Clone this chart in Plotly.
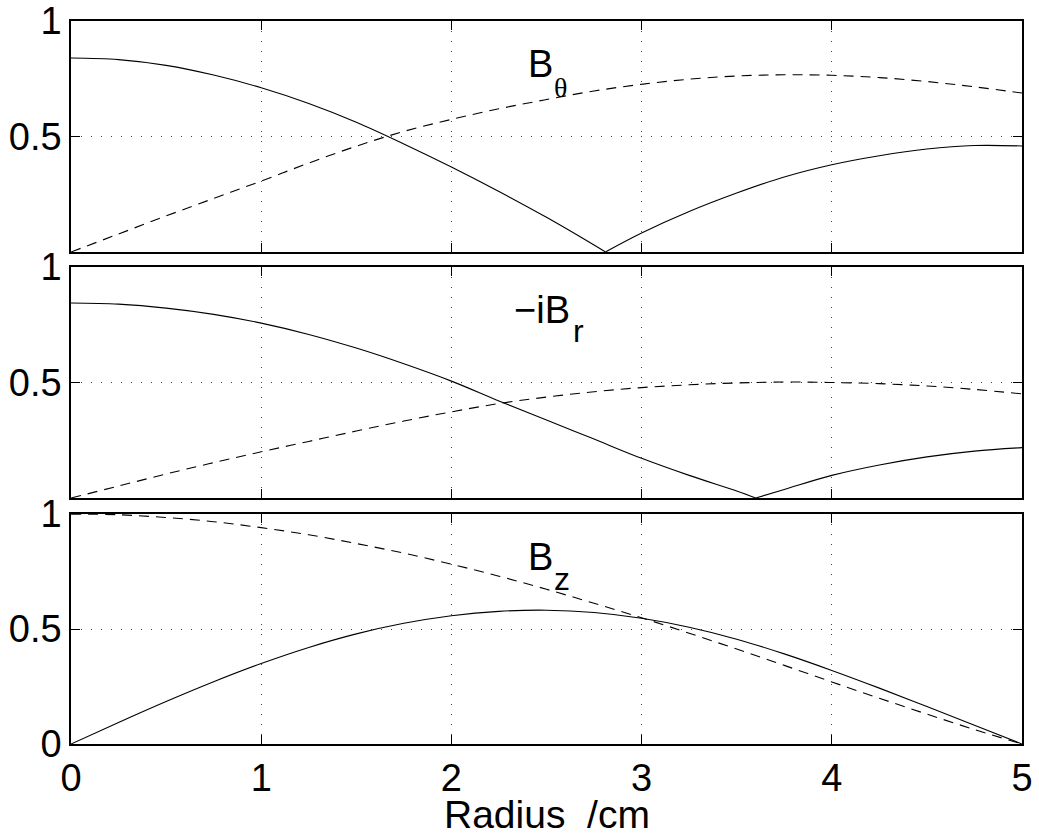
import plotly.graph_objects as go

# ---------------- data ----------------
radius = [0, 0.25, 0.5, 0.75, 1.0, 1.25, 1.5, 1.75, 2.0, 2.25, 2.5, 2.75,
          3.0, 3.25, 3.5, 3.75, 4.0, 4.25, 4.5, 4.75, 5.0]

# B_theta panel
btheta_solid_r = [0, 0.25, 0.5, 0.75, 1.0, 1.25, 1.5, 1.75, 2.0, 2.25, 2.5, 2.75, 2.81,
                  3.0, 3.25, 3.5, 3.75, 4.0, 4.25, 4.5, 4.75, 5.0]
btheta_solid = [0.840, 0.833, 0.808, 0.766, 0.711, 0.643, 0.562, 0.468, 0.368, 0.262, 0.150, 0.030, 0.0,
                0.082, 0.175, 0.255, 0.325, 0.378, 0.417, 0.446, 0.461, 0.459]
btheta_dashed = [0.0, 0.078, 0.156, 0.232, 0.307, 0.385, 0.458, 0.522, 0.574, 0.620, 0.660, 0.697,
                 0.726, 0.748, 0.762, 0.767, 0.765, 0.755, 0.738, 0.715, 0.688]

# -iB_r panel
br_solid_r = [0, 0.25, 0.5, 0.75, 1.0, 1.25, 1.5, 1.75, 2.0, 2.25, 2.5, 2.75, 3.0, 3.25, 3.5, 3.6,
              3.75, 4.0, 4.25, 4.5, 4.75, 5.0]
br_solid = [0.844, 0.839, 0.822, 0.795, 0.757, 0.708, 0.649, 0.581, 0.506, 0.420, 0.338, 0.255,
            0.172, 0.098, 0.030, 0.0, 0.037, 0.098, 0.143, 0.178, 0.203, 0.218]
br_dashed = [0.0, 0.052, 0.104, 0.153, 0.200, 0.245, 0.290, 0.333, 0.373, 0.409, 0.437, 0.460,
             0.478, 0.490, 0.498, 0.502, 0.500, 0.495, 0.485, 0.470, 0.451]

# B_z panel
bz_solid = [0.0, 0.094, 0.185, 0.271, 0.350, 0.420, 0.479, 0.525, 0.558, 0.577, 0.582, 0.572,
            0.547, 0.508, 0.456, 0.392, 0.320, 0.243, 0.163, 0.082, 0.0]
bz_dashed = [1.0, 0.997, 0.985, 0.967, 0.941, 0.910, 0.872, 0.830, 0.782, 0.730, 0.673, 0.612,
             0.549, 0.482, 0.413, 0.342, 0.270, 0.199, 0.130, 0.063, 0.0]

x_ticks = [0, 1, 2, 3, 4, 5]
x_ticklabels = ["0", "1", "2", "3", "4", "5"]
y_ticks_upper = [0.5, 1]
y_ticks_lower = [0, 0.5, 1]
x_title = "Radius\u00a0\u00a0/cm"

# ---------------- styling ----------------
FONT = "Liberation Sans, Arial, Helvetica, sans-serif"
FS = 38
LINE = dict(color="black", width=1.1)
DASH = dict(color="black", width=1.1, dash="10px,7px")

fig = go.Figure()


def split_at_zero(xs, ys):
    i = ys.index(0.0, 1)
    return (xs[:i + 1], ys[:i + 1]), (xs[i:], ys[i:])


# top panel (x3, y3)
for seg in split_at_zero(btheta_solid_r, btheta_solid):
    fig.add_trace(go.Scatter(x=seg[0], y=seg[1], mode="lines", line=dict(LINE, shape="spline"),
                             xaxis="x3", yaxis="y3", showlegend=False))
fig.add_trace(go.Scatter(x=radius, y=btheta_dashed, mode="lines", line=dict(DASH, shape="spline"),
                         xaxis="x3", yaxis="y3", showlegend=False))

# middle panel (x2, y2)
for seg in split_at_zero(br_solid_r, br_solid):
    fig.add_trace(go.Scatter(x=seg[0], y=seg[1], mode="lines", line=dict(LINE, shape="spline"),
                             xaxis="x2", yaxis="y2", showlegend=False))
fig.add_trace(go.Scatter(x=radius, y=br_dashed, mode="lines", line=dict(DASH, shape="spline"),
                         xaxis="x2", yaxis="y2", showlegend=False))

# bottom panel (x, y)
fig.add_trace(go.Scatter(x=radius, y=bz_solid, mode="lines", line=dict(LINE, shape="spline"),
                         xaxis="x", yaxis="y", showlegend=False))
fig.add_trace(go.Scatter(x=radius, y=bz_dashed, mode="lines", line=dict(DASH, shape="spline"),
                         xaxis="x", yaxis="y", showlegend=False))

common_axis = dict(
    showline=True, linecolor="black", linewidth=1.6, mirror="allticks",
    ticks="inside", ticklen=9, tickwidth=1, tickcolor="black",
    showgrid=True, gridcolor="#444444", gridwidth=1, griddash="1px,9px",
    zeroline=False, automargin=False, ticklabeloverflow="allow",
    tickfont=dict(family=FONT, size=FS, color="black"),
)

xcommon = dict(common_axis, range=[0, 5], tickvals=x_ticks, ticktext=x_ticklabels)

fig.update_layout(
    width=1039, height=834,
    margin=dict(l=71, r=17, t=21, b=90, autoexpand=False),
    paper_bgcolor="white", plot_bgcolor="white",
    font=dict(family=FONT, size=FS, color="black"),
    xaxis=dict(xcommon, anchor="y"),
    xaxis2=dict(xcommon, anchor="y2", showticklabels=False, matches="x"),
    xaxis3=dict(xcommon, anchor="y3", showticklabels=False, matches="x"),
    yaxis=dict(common_axis, domain=[0, 0.318], range=[0, 1], tickvals=y_ticks_lower,
               ticktext=["0", "0.5", "1"], anchor="x"),
    yaxis2=dict(common_axis, domain=[0.3402, 0.6598], range=[0, 1], tickvals=y_ticks_upper,
                ticktext=["0.5", "1"], anchor="x2"),
    yaxis3=dict(common_axis, domain=[0.6805, 1], range=[0, 1], tickvals=y_ticks_upper,
                ticktext=["0.5", "1"], anchor="x3"),
)

ann = []
def label(text, x, y, xr, yr, size, family=FONT, xanchor="left"):
    ann.append(dict(text=text, x=x, y=y, xref=xr, yref=yr, xanchor=xanchor, yanchor="middle",
                    showarrow=False, borderpad=0, font=dict(family=family, size=size, color="black")))

label("B", 2.397, 0.814, "x3", "y3", 38)
label("\u03b8", 2.534, 0.71, "x3", "y3", 28, "Liberation Serif, Times New Roman, serif")
label("\u2212iB", 2.324, 0.814, "x2", "y2", 38)
label("r", 2.634, 0.723, "x2", "y2", 32)
label("B", 2.397, 0.815, "x", "y", 38)
label("z", 2.534, 0.717, "x", "y", 32)
# x-axis title
label(x_title, 0.5, -0.097, "paper", "paper", 39, xanchor="center")
fig.update_layout(annotations=ann)

fig.write_html("out.html")
